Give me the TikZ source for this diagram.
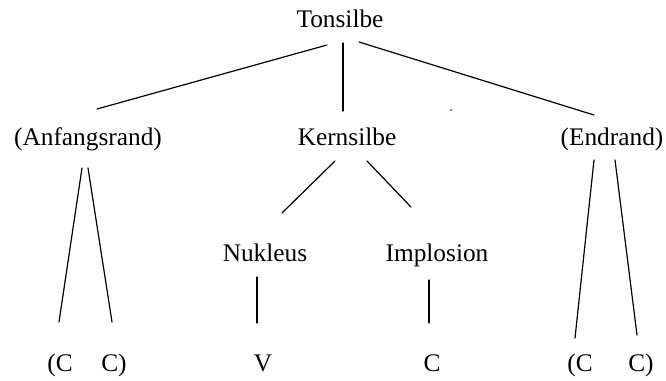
\documentclass[tikz,border=0pt]{standalone}
\usepackage{fontspec}
\setmainfont{Liberation Serif}
\begin{document}
\begin{tikzpicture}[x=0.75pt,y=-0.75pt,
  lbl/.style={inner sep=0pt,anchor=base,font=\fontsize{19}{22}\selectfont},
  edge/.style={line width=0.9pt,line cap=round}]
\useasboundingbox (0,0) rectangle (666,380);
% labels
\node[lbl] (ton) at (340,27) {Tonsilbe};
\node[lbl] (anf) at (88,145) {(Anfangsrand)};
\node[lbl] (ker) at (347,145) {Kernsilbe};
\node[lbl] (end) at (612,145) {(Endrand)};
\node[lbl] (nuk) at (265,261) {Nukleus};
\node[lbl] (imp) at (437,261) {Implosion};
\node[lbl] (c1) at (60,371) {(C};
\node[lbl] (c2) at (114,371) {C)};
\node[lbl] (v) at (263,371) {V};
\node[lbl] (c3) at (432,371) {C};
\node[lbl] (c4) at (580,371) {(C};
\node[lbl] (c5) at (641,371) {C)};
% connector ends
\coordinate (tonL) at (327,45);  \coordinate (anfT) at (97,109);
\coordinate (tonM) at (343,43);  \coordinate (kerT) at (343,111);
\coordinate (tonR) at (359,42);  \coordinate (endT) at (594,115);
\coordinate (anfB1) at (82,168); \coordinate (c1T) at (59,322);
\coordinate (anfB2) at (88,168); \coordinate (c2T) at (112,322);
\coordinate (kerB1) at (335,161); \coordinate (nukT) at (282,213);
\coordinate (kerB2) at (367,161); \coordinate (impT) at (411,207);
\coordinate (nukB) at (257,277); \coordinate (vT) at (257,323);
\coordinate (impB) at (429,280); \coordinate (c3T) at (429,323);
\coordinate (endB1) at (594,160); \coordinate (c4T) at (575,338);
\coordinate (endB2) at (615,160); \coordinate (c5T) at (637,335);
% tree edges
\draw[edge] (tonL) -- (anfT);
\draw[edge] (tonM) -- (kerT);
\draw[edge] (tonR) -- (endT);
\draw[edge] (anfB1) -- (c1T);
\draw[edge] (anfB2) -- (c2T);
\draw[edge] (kerB1) -- (nukT);
\draw[edge] (kerB2) -- (impT);
\draw[edge] (nukB) -- (vT);
\draw[edge] (impB) -- (c3T);
\draw[edge] (endB1) -- (c4T);
\draw[edge] (endB2) -- (c5T);
% small speck to the right of the middle stem
\fill (451,110) circle (0.9);
\end{tikzpicture}
\end{document}
